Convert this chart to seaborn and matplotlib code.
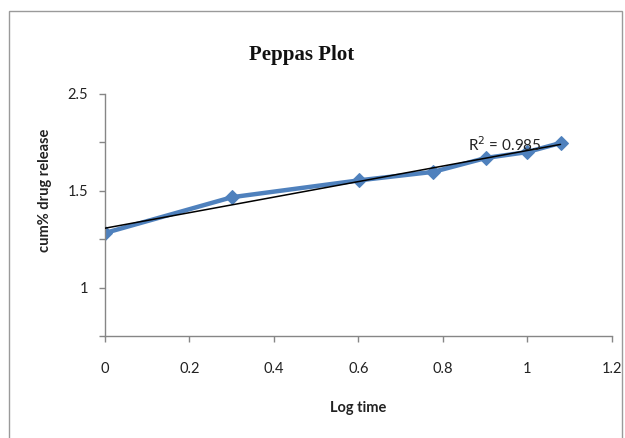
import matplotlib
matplotlib.use("Agg")
import matplotlib.pyplot as plt
import seaborn as sns
import pandas as pd
import numpy as np
from matplotlib.patches import Rectangle

log_time = [0.0, 0.301, 0.602, 0.778, 0.903, 1.0, 1.079]
log_release = [1.282, 1.467, 1.554, 1.598, 1.670, 1.700, 1.747]

x_ticks = [0, 0.2, 0.4, 0.6, 0.8, 1.0, 1.2]
x_tick_labels = ["0", "0.2", "0.4", "0.6", "0.8", "1", "1.2"]
y_ticks = [0.75, 1.0, 1.25, 1.5, 1.75, 2.0]
y_tick_labels = ["", "1", "", "1.5", "", "2.5"]

title = "Peppas Plot"
x_label = "Log time"
y_label = "cum% drug release"
r2_text = "R$^2$ = 0.985"

df = pd.DataFrame({"log_time": log_time, "log_release": log_release})

sns.set_theme(style="white")
plt.rcParams["font.family"] = ["Lato", "DejaVu Sans"]

fig = plt.figure(figsize=(6.25, 4.38), dpi=100)
ax = fig.add_axes([0.168, 0.2329, 0.8106, 0.5525])

blue = "#4f81bd"
sns.lineplot(data=df, x="log_time", y="log_release", ax=ax, color=blue,
             linewidth=3.2, marker="D", markersize=7.5, markeredgecolor=blue,
             zorder=2)
sns.regplot(data=df, x="log_time", y="log_release", ax=ax, scatter=False,
            ci=None, truncate=True, color="black",
            line_kws={"linewidth": 1.1, "zorder": 3})

ax.set_xlim(0, 1.2)
ax.set_ylim(0.75, 2.0)
ax.set_xticks(x_ticks)
ax.set_xticklabels(x_tick_labels)
ax.set_yticks(y_ticks)
ax.set_yticklabels(y_tick_labels)
ax.tick_params(axis="both", which="both", direction="out", length=4,
               width=1, color="#868686", labelsize=10.5, labelcolor="#222222",
               bottom=True, left=True)
ax.tick_params(axis="x", pad=15)
ax.tick_params(axis="y", pad=8)
for s in ["top", "right"]:
    ax.spines[s].set_visible(False)
for s in ["left", "bottom"]:
    ax.spines[s].set_color("#868686")
    ax.spines[s].set_linewidth(1)

ax.set_xlabel(x_label, fontsize=10.5, fontweight="bold", color="#222222",
              labelpad=18)
ax.set_ylabel(y_label, fontsize=10.5, fontweight="bold", color="#222222",
              labelpad=14)
ax.yaxis.set_label_coords(-0.105, 0.6)
ax.grid(False)

ax.text(0.86, 1.738, r2_text, fontsize=11, color="#222222",
        ha="left", va="center", zorder=4)

fig.text(0.482, 0.875, title, fontsize=15, fontweight="bold",
         family="Liberation Serif", ha="center", va="center", color="#111111")

fig.patches.append(Rectangle((9 / 625, -0.05), 613 / 625, 1.05 - 11 / 438,
                             transform=fig.transFigure, fill=False,
                             edgecolor="#9a9a9a", linewidth=1))

fig.savefig("out.png", dpi=100, facecolor="white")
